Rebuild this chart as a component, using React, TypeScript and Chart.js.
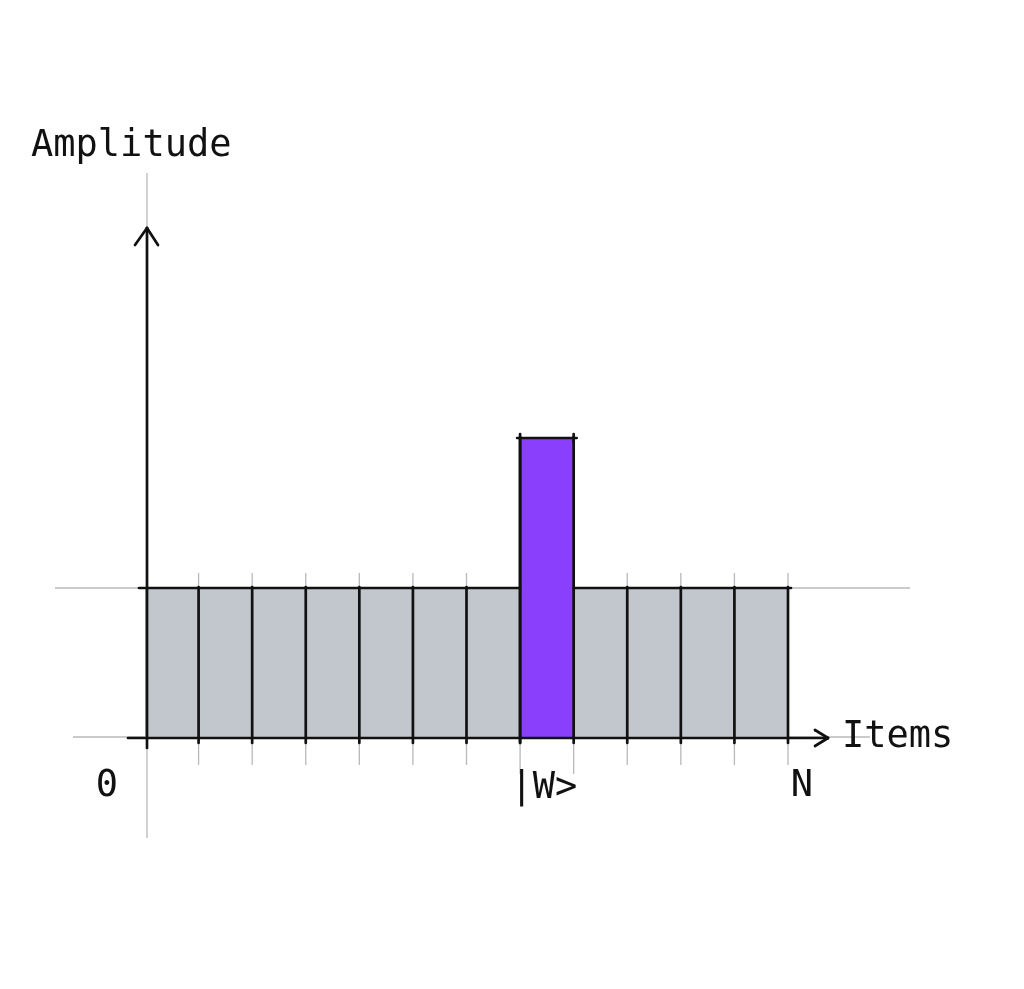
import React, { useEffect, useRef } from 'react';
import { Chart, registerables } from 'chart.js';

Chart.register(...registerables);

// ---- data ----
const categories = ['1', '2', '3', '4', '5', '6', '7', '8', '9', '10', '11', '12'];
const amplitudes = [1, 1, 1, 1, 1, 1, 1, 2, 1, 1, 1, 1];
const markedIndex = 7;
const xTickLabels = ['0', '|W>', 'N'];
const yTitle = 'Amplitude';
const xTitle = 'Items';
const yMax = 3.4;

const GREY = '#C1C7CD';
const PURPLE = '#8A3FFC';
const INK = '#111111';
const GUIDE = '#b9b9b9';
const FONT = '37px "DejaVu Sans Mono", "Liberation Mono", monospace';

const sketchPlugin = {
  id: 'sketch',
  beforeDatasetsDraw(chart: any) {
    const { ctx, chartArea: ca, scales } = chart;
    const y = scales.y;
    const meta = chart.getDatasetMeta(0);
    const base = y.getPixelForValue(0);
    const one = y.getPixelForValue(1);
    const line = (x1: number, y1: number, x2: number, y2: number) => {
      ctx.beginPath();
      ctx.moveTo(x1, y1);
      ctx.lineTo(x2, y2);
      ctx.stroke();
    };
    ctx.save();
    ctx.strokeStyle = GUIDE;
    ctx.lineWidth = 1.3;
    // guide at amplitude 1
    line(ca.left - 90, one, ca.right + 122, one);
    // baseline guide
    line(ca.left - 72, base - 1, ca.right + 82, base - 1);
    // y axis guide
    line(ca.left + 2, ca.top - 55, ca.left + 2, base + 100);
    // tick guides at boundaries
    meta.data.forEach((bar: any, i: number) => {
      const r = bar.x + bar.width / 2;
      const near = i === markedIndex || i === markedIndex - 1;
      line(r, one - 15, r, base + (near ? 36 : 27));
    });
    ctx.restore();
  },
  afterDatasetsDraw(chart: any) {
    const { ctx, chartArea: ca, scales } = chart;
    const y = scales.y;
    const meta = chart.getDatasetMeta(0);
    const base = y.getPixelForValue(0);
    const one = y.getPixelForValue(1);
    const line = (x1: number, y1: number, x2: number, y2: number) => {
      ctx.beginPath();
      ctx.moveTo(x1, y1);
      ctx.lineTo(x2, y2);
      ctx.stroke();
    };
    ctx.save();
    ctx.strokeStyle = INK;
    ctx.lineCap = 'round';
    ctx.lineWidth = 2.7;
    const marked = meta.data[markedIndex];
    const mL = marked.x - marked.width / 2;
    const mR = marked.x + marked.width / 2;
    // top outline of amplitude-1 bars (skipping the marked bar)
    line(ca.left - 6, one, mL, one);
    line(mR, one, ca.right + 3, one);
    // bar boundaries
    meta.data.forEach((bar: any, i: number) => {
      const l = bar.x - bar.width / 2;
      const r = bar.x + bar.width / 2;
      const topR = Math.min(
        y.getPixelForValue(amplitudes[i]),
        i + 1 < amplitudes.length ? y.getPixelForValue(amplitudes[i + 1]) : Infinity
      );
      line(r, topR - 1, r, base + 5);
      if (i === markedIndex) {
        const t = y.getPixelForValue(amplitudes[i]);
        line(l - 3, t, r + 3, t);
        line(l, t - 4, l, base + 5);
        line(r, t - 4, r, t + 4);
      }
    });
    // x axis
    line(ca.left - 17, base, ca.right + 38, base);
    line(ca.right + 40, base, ca.right + 27, base - 8);
    line(ca.right + 40, base, ca.right + 27, base + 8);
    // y axis
    line(ca.left + 2, ca.top, ca.left + 2, base + 10);
    line(ca.left + 2, ca.top, ca.left - 10, ca.top + 17);
    line(ca.left + 2, ca.top, ca.left + 13, ca.top + 17);

    // texts
    ctx.fillStyle = INK;
    ctx.font = FONT;
    ctx.textBaseline = 'alphabetic';
    ctx.textAlign = 'left';
    ctx.fillText(yTitle, ca.left - 114, ca.top - 72);
    ctx.textBaseline = 'middle';
    ctx.fillText(xTitle, ca.right + 54, base - 1);
    ctx.textAlign = 'center';
    const first = meta.data[0];
    const last = meta.data[meta.data.length - 1];
    ctx.fillText(xTickLabels[0], first.x - first.width / 2 - 38, base + 48);
    ctx.fillText(xTickLabels[1], marked.x - 3, base + 50);
    ctx.fillText(xTickLabels[2], last.x + last.width / 2 + 14, base + 48);
    ctx.restore();
  },
};

export default function App() {
  const ref = useRef<HTMLCanvasElement>(null);
  useEffect(() => {
    if (!ref.current) return;
    const chart = new Chart(ref.current, {
      type: 'bar',
      data: {
        labels: categories,
        datasets: [
          {
            data: amplitudes,
            backgroundColor: amplitudes.map((_, i) => (i === markedIndex ? PURPLE : GREY)),
            borderWidth: 0,
            barPercentage: 1,
            categoryPercentage: 1,
          },
        ],
      },
      options: {
        responsive: false,
        animation: false,
        events: [],
        layout: { padding: { left: 145, right: 236, top: 228, bottom: 251 } },
        plugins: { legend: { display: false }, tooltip: { enabled: false } },
        scales: {
          x: { display: false },
          y: { display: false, min: 0, max: yMax },
        },
      },
      plugins: [sketchPlugin],
    });
    return () => chart.destroy();
  }, []);
  return (
    <div style={{ position: 'fixed', left: 0, top: 0, width: 1024, height: 989, background: '#fff' }}>
      <canvas ref={ref} width={1024} height={989} />
    </div>
  );
}
